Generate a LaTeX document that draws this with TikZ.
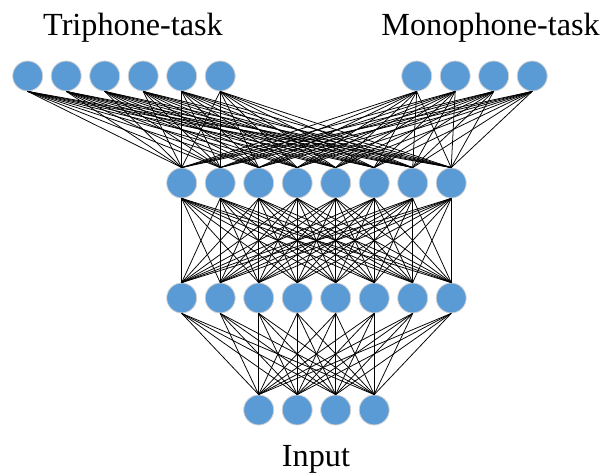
\documentclass[tikz,border=0pt]{standalone}
\usepackage{fontspec}
\setmainfont{Liberation Serif}
\definecolor{nblue}{HTML}{5B9BD5}
\begin{document}
\begin{tikzpicture}[x=0.03cm,y=-0.03cm,
    neuron/.style={circle,fill=nblue,draw=gray!35,line width=0.7pt,inner sep=0pt,minimum size=0.9cm},
    link/.style={black,line width=0.65pt},
    tasklabel/.style={anchor=base,font=\fontsize{27.5}{32}\selectfont}]
    \useasboundingbox (0,0) rectangle (603,473);
    \foreach \i in {1,...,6}
        \node[neuron] (T\i) at ({27.7+38.5*(\i-1)},76) {};
    \foreach \i in {1,...,4}
        \node[neuron] (M\i) at ({416.7+38.5*(\i-1)},76) {};
    \foreach \i in {1,...,8} {
        \node[neuron] (A\i) at ({181.7+38.5*(\i-1)},183) {};
        \node[neuron] (B\i) at ({181.7+38.5*(\i-1)},298) {};
    }
    \foreach \i in {1,...,4}
        \node[neuron] (I\i) at ({258.7+38.5*(\i-1)},410) {};
    \foreach \j in {1,...,8} {
        \foreach \i in {1,...,6}
            \draw[link] (T\i.south) -- (A\j.north);
        \foreach \i in {1,...,4}
            \draw[link] (M\i.south) -- (A\j.north);
        \foreach \i in {1,...,8}
            \draw[link] (A\i.south) -- (B\j.north);
        \foreach \i in {1,...,4}
            \draw[link] (B\j.south) -- (I\i.north);
    }
    \node[tasklabel] (tri) at (133,35) {Triphone-task};
    \node[tasklabel] (mono) at (490.6,35) {Monophone-task};
    \node[tasklabel] (inp) at (316,466) {Input};
\end{tikzpicture}
\end{document}
